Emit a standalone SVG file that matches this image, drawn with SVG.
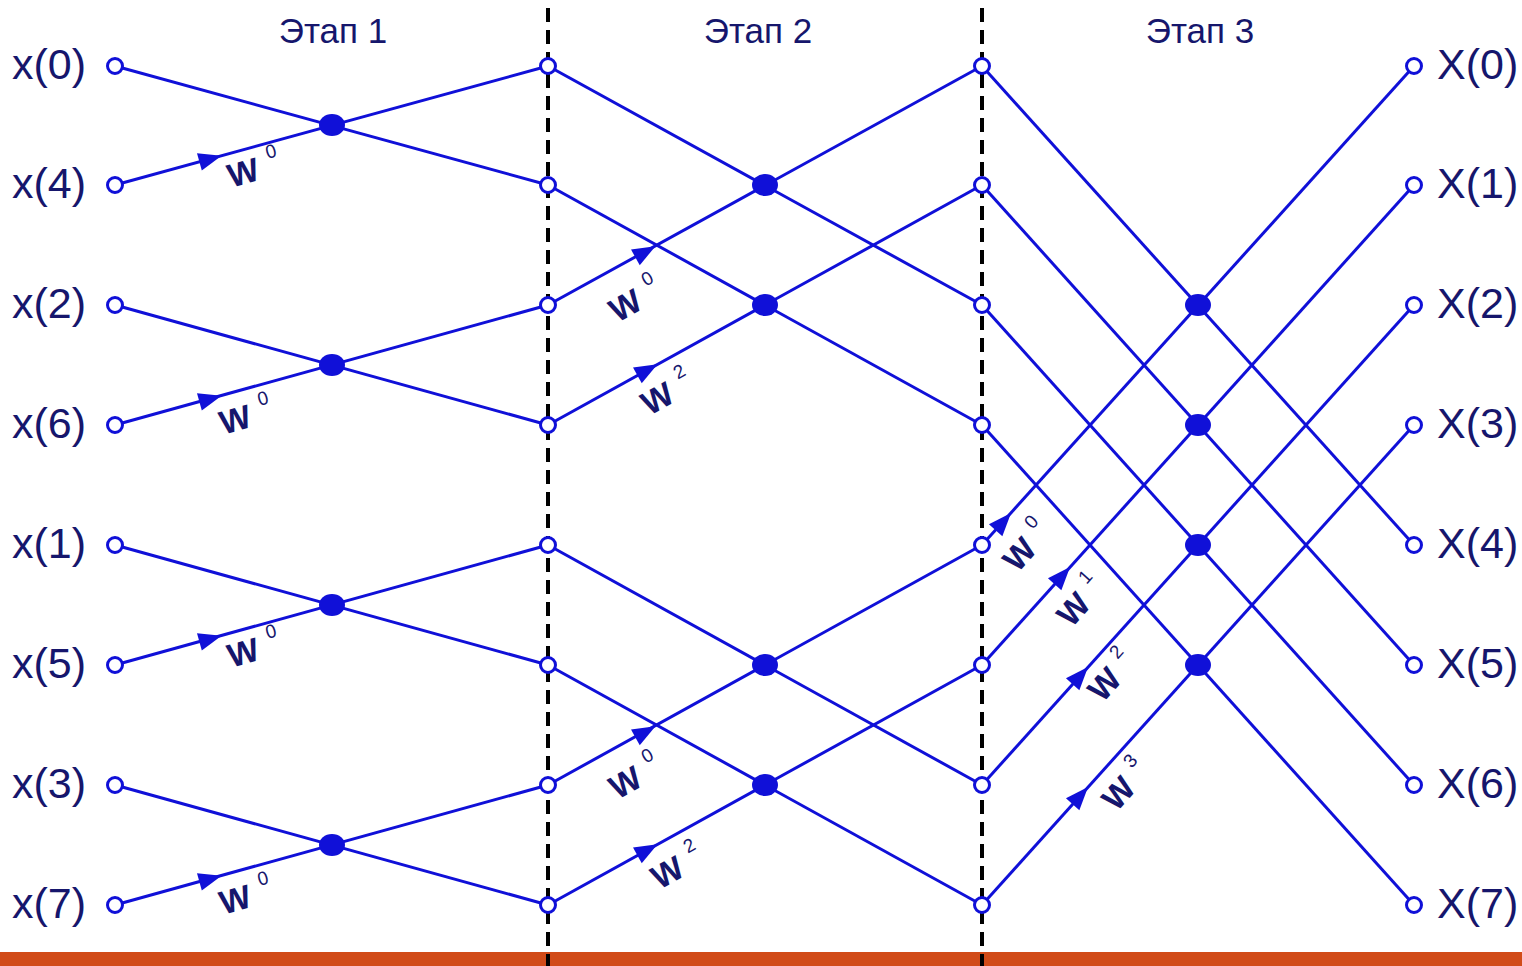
<svg xmlns="http://www.w3.org/2000/svg" width="1522" height="966" viewBox="0 0 1522 966">
<style>
.ln{stroke:#1010d8;stroke-width:3;fill:none}
.oc{fill:#fff;stroke:#1010d8;stroke-width:3}
.fc{fill:#1010d8}
.lbl{font-family:"Liberation Sans",Arial,sans-serif;font-size:43px;fill:#16166c}
.stg{font-family:"Liberation Sans",Arial,sans-serif;font-size:35px;fill:#16166c;text-anchor:middle}
.w{font-family:"Liberation Sans",Arial,sans-serif;font-size:33px;font-weight:bold;fill:#16166c;text-anchor:middle}
.ws{font-family:"Liberation Sans",Arial,sans-serif;font-size:19px;fill:#16166c}
.dash{stroke:#000;stroke-width:4;stroke-dasharray:14 8}
</style>
<defs>
<path id="arr" d="M12,0 L-11,-9 L-11,9 Z" fill="#1010d8"/>
</defs>
<rect id="bar" x="0" y="952" width="1522" height="14" fill="#d14b19"/>
<g id="dividers">
<line class="dash" x1="548" y1="8" x2="548" y2="966"/>
<line class="dash" x1="982" y1="8" x2="982" y2="966"/>
</g>
<g id="stages">
<text class="stg" x="333" y="43">Этап 1</text>
<text class="stg" x="758" y="43">Этап 2</text>
<text class="stg" x="1200" y="43">Этап 3</text>
</g>
<g id="connectors">
<line class="ln" x1="115" y1="66" x2="548" y2="185"/>
<line class="ln" x1="115" y1="185" x2="548" y2="66"/>
<line class="ln" x1="115" y1="305" x2="548" y2="425"/>
<line class="ln" x1="115" y1="425" x2="548" y2="305"/>
<line class="ln" x1="115" y1="545" x2="548" y2="665"/>
<line class="ln" x1="115" y1="665" x2="548" y2="545"/>
<line class="ln" x1="115" y1="785" x2="548" y2="905"/>
<line class="ln" x1="115" y1="905" x2="548" y2="785"/>
<line class="ln" x1="548" y1="66" x2="982" y2="305"/>
<line class="ln" x1="548" y1="305" x2="982" y2="66"/>
<line class="ln" x1="548" y1="185" x2="982" y2="425"/>
<line class="ln" x1="548" y1="425" x2="982" y2="185"/>
<line class="ln" x1="548" y1="545" x2="982" y2="785"/>
<line class="ln" x1="548" y1="785" x2="982" y2="545"/>
<line class="ln" x1="548" y1="665" x2="982" y2="905"/>
<line class="ln" x1="548" y1="905" x2="982" y2="665"/>
<line class="ln" x1="982" y1="66" x2="1414" y2="545"/>
<line class="ln" x1="982" y1="545" x2="1414" y2="66"/>
<line class="ln" x1="982" y1="185" x2="1414" y2="665"/>
<line class="ln" x1="982" y1="665" x2="1414" y2="185"/>
<line class="ln" x1="982" y1="305" x2="1414" y2="785"/>
<line class="ln" x1="982" y1="785" x2="1414" y2="305"/>
<line class="ln" x1="982" y1="425" x2="1414" y2="905"/>
<line class="ln" x1="982" y1="905" x2="1414" y2="425"/>
<use href="#arr" transform="translate(210,159) rotate(-15.5)"/>
<use href="#arr" transform="translate(210,399) rotate(-15.5)"/>
<use href="#arr" transform="translate(210,639) rotate(-15.5)"/>
<use href="#arr" transform="translate(210,879) rotate(-15.5)"/>
<use href="#arr" transform="translate(645,252) rotate(-29)"/>
<use href="#arr" transform="translate(647,370) rotate(-29)"/>
<use href="#arr" transform="translate(645,732) rotate(-29)"/>
<use href="#arr" transform="translate(647,850) rotate(-29)"/>
<use href="#arr" transform="translate(1003,522) rotate(-48)"/>
<use href="#arr" transform="translate(1062,576) rotate(-48)"/>
<use href="#arr" transform="translate(1080,676) rotate(-48)"/>
<use href="#arr" transform="translate(1080,796) rotate(-48)"/>
</g>
<g id="weights">
<g transform="translate(243,172) rotate(-15.5)"><text class="w" x="0" y="12">W</text><text class="ws" x="27" y="-6">0</text></g>
<g transform="translate(235,419) rotate(-15.5)"><text class="w" x="0" y="12">W</text><text class="ws" x="27" y="-6">0</text></g>
<g transform="translate(243,652) rotate(-15.5)"><text class="w" x="0" y="12">W</text><text class="ws" x="27" y="-6">0</text></g>
<g transform="translate(235,899) rotate(-15.5)"><text class="w" x="0" y="12">W</text><text class="ws" x="27" y="-6">0</text></g>
<g transform="translate(625,305) rotate(-29)"><text class="w" x="0" y="12">W</text><text class="ws" x="27" y="-6">0</text></g>
<g transform="translate(657,398) rotate(-29)"><text class="w" x="0" y="12">W</text><text class="ws" x="27" y="-6">2</text></g>
<g transform="translate(625,782) rotate(-29)"><text class="w" x="0" y="12">W</text><text class="ws" x="27" y="-6">0</text></g>
<g transform="translate(667,872) rotate(-29)"><text class="w" x="0" y="12">W</text><text class="ws" x="27" y="-6">2</text></g>
<g transform="translate(1019,554) rotate(-48)"><text class="w" x="0" y="12">W</text><text class="ws" x="27" y="-6">0</text></g>
<g transform="translate(1073,609) rotate(-48)"><text class="w" x="0" y="12">W</text><text class="ws" x="27" y="-6">1</text></g>
<g transform="translate(1104,684) rotate(-48)"><text class="w" x="0" y="12">W</text><text class="ws" x="27" y="-6">2</text></g>
<g transform="translate(1118,793) rotate(-48)"><text class="w" x="0" y="12">W</text><text class="ws" x="27" y="-6">3</text></g>
</g>
<g id="butterflies">
<ellipse class="fc" cx="332" cy="125" rx="13" ry="11"/>
<ellipse class="fc" cx="332" cy="365" rx="13" ry="11"/>
<ellipse class="fc" cx="332" cy="605" rx="13" ry="11"/>
<ellipse class="fc" cx="332" cy="845" rx="13" ry="11"/>
<ellipse class="fc" cx="765" cy="185" rx="13" ry="11"/>
<ellipse class="fc" cx="765" cy="305" rx="13" ry="11"/>
<ellipse class="fc" cx="765" cy="665" rx="13" ry="11"/>
<ellipse class="fc" cx="765" cy="785" rx="13" ry="11"/>
<ellipse class="fc" cx="1198" cy="305" rx="13" ry="11"/>
<ellipse class="fc" cx="1198" cy="425" rx="13" ry="11"/>
<ellipse class="fc" cx="1198" cy="545" rx="13" ry="11"/>
<ellipse class="fc" cx="1198" cy="665" rx="13" ry="11"/>
</g>
<g id="inputs">
<g id="in0"><circle class="oc" cx="115" cy="66" r="7.5"/><text class="lbl" x="12" y="79">x(0)</text></g>
<g id="in4"><circle class="oc" cx="115" cy="185" r="7.5"/><text class="lbl" x="12" y="198">x(4)</text></g>
<g id="in2"><circle class="oc" cx="115" cy="305" r="7.5"/><text class="lbl" x="12" y="318">x(2)</text></g>
<g id="in6"><circle class="oc" cx="115" cy="425" r="7.5"/><text class="lbl" x="12" y="438">x(6)</text></g>
<g id="in1"><circle class="oc" cx="115" cy="545" r="7.5"/><text class="lbl" x="12" y="558">x(1)</text></g>
<g id="in5"><circle class="oc" cx="115" cy="665" r="7.5"/><text class="lbl" x="12" y="678">x(5)</text></g>
<g id="in3"><circle class="oc" cx="115" cy="785" r="7.5"/><text class="lbl" x="12" y="798">x(3)</text></g>
<g id="in7"><circle class="oc" cx="115" cy="905" r="7.5"/><text class="lbl" x="12" y="918">x(7)</text></g>
</g>
<g id="mid1">
<circle class="oc" cx="548" cy="66" r="7.5"/>
<circle class="oc" cx="548" cy="185" r="7.5"/>
<circle class="oc" cx="548" cy="305" r="7.5"/>
<circle class="oc" cx="548" cy="425" r="7.5"/>
<circle class="oc" cx="548" cy="545" r="7.5"/>
<circle class="oc" cx="548" cy="665" r="7.5"/>
<circle class="oc" cx="548" cy="785" r="7.5"/>
<circle class="oc" cx="548" cy="905" r="7.5"/>
</g>
<g id="mid2">
<circle class="oc" cx="982" cy="66" r="7.5"/>
<circle class="oc" cx="982" cy="185" r="7.5"/>
<circle class="oc" cx="982" cy="305" r="7.5"/>
<circle class="oc" cx="982" cy="425" r="7.5"/>
<circle class="oc" cx="982" cy="545" r="7.5"/>
<circle class="oc" cx="982" cy="665" r="7.5"/>
<circle class="oc" cx="982" cy="785" r="7.5"/>
<circle class="oc" cx="982" cy="905" r="7.5"/>
</g>
<g id="outputs">
<g id="out0"><circle class="oc" cx="1414" cy="66" r="7.5"/><text class="lbl" x="1437" y="79">X(0)</text></g>
<g id="out1"><circle class="oc" cx="1414" cy="185" r="7.5"/><text class="lbl" x="1437" y="198">X(1)</text></g>
<g id="out2"><circle class="oc" cx="1414" cy="305" r="7.5"/><text class="lbl" x="1437" y="318">X(2)</text></g>
<g id="out3"><circle class="oc" cx="1414" cy="425" r="7.5"/><text class="lbl" x="1437" y="438">X(3)</text></g>
<g id="out4"><circle class="oc" cx="1414" cy="545" r="7.5"/><text class="lbl" x="1437" y="558">X(4)</text></g>
<g id="out5"><circle class="oc" cx="1414" cy="665" r="7.5"/><text class="lbl" x="1437" y="678">X(5)</text></g>
<g id="out6"><circle class="oc" cx="1414" cy="785" r="7.5"/><text class="lbl" x="1437" y="798">X(6)</text></g>
<g id="out7"><circle class="oc" cx="1414" cy="905" r="7.5"/><text class="lbl" x="1437" y="918">X(7)</text></g>
</g>
</svg>
